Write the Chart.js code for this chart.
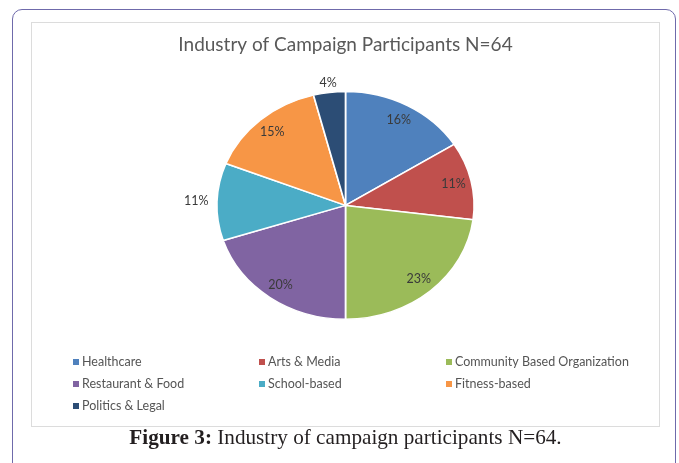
<!DOCTYPE html>
<html>
<head>
<meta charset="utf-8">
<script src="https://cdn.jsdelivr.net/npm/chart.js@4"></script>
<style>
  body { margin: 0; background: #fff; width: 679px; height: 463px; overflow: hidden; position: relative; }
  #frame { position: absolute; left: 12px; top: 9px; width: 662px; height: 480px; border: 1px solid #6f6aab; border-radius: 10px; }
  #box { position: absolute; left: 31px; top: 22px; width: 627px; height: 403px; border: 1px solid #dcdcdc; }
  #caption { position: absolute; left: 6px; width: 679px; top: 425px; text-align: center;
             font-family: "Liberation Serif", serif; font-size: 21.2px; color: #231f20; }
</style>
</head>
<body>
<div id="frame"></div>
<div id="box"><canvas id="industryChart" width="627" height="403"></canvas></div>
<div id="caption"><b>Figure 3:</b> Industry of campaign participants N=64.</div>
<script>
// Categories and share of participants (%)
var industries = ["Healthcare", "Arts & Media", "Community Based Organization",
                  "Restaurant & Food", "School-based", "Fitness-based", "Politics & Legal"];
var shares = [16, 11, 23, 20, 11, 15, 4];
var colors = ["#4f81bd", "#c0504d", "#9bbb59", "#8064a2", "#4bacc6", "#f79646", "#2c4d75"];

// pie is drawn a bit wider than tall, like the original
var stretchX = 1.13;
// where each percentage label sits, as a fraction of the radius
var labelRadius = [0.86, 0.86, 0.86, 0.86, 1.16, 0.86, 1.08];

var stretchPie = {
    id: "stretchPie",
    beforeDatasetsDraw: function (chart) {
        var arc = chart.getDatasetMeta(0).data[0];
        var ctx = chart.ctx;
        ctx.save();
        ctx.translate(arc.x, arc.y);
        ctx.scale(stretchX, 1);
        ctx.translate(-arc.x, -arc.y);
    },
    afterDatasetsDraw: function (chart) {
        var ctx = chart.ctx;
        ctx.restore();
        // percentage labels
        ctx.save();
        ctx.font = "12.5px Lato";
        ctx.fillStyle = "#3a3a3a";
        ctx.textAlign = "center";
        ctx.textBaseline = "middle";
        chart.getDatasetMeta(0).data.forEach(function (a, i) {
            var mid = (a.startAngle + a.endAngle) / 2;
            var r = a.outerRadius * labelRadius[i];
            ctx.fillText(shares[i] + "%", a.x + Math.cos(mid) * r * stretchX, a.y + Math.sin(mid) * r);
        });
        ctx.restore();
    }
};

// legend in three columns under the pie
var columnLegend = {
    id: "columnLegend",
    afterDraw: function (chart) {
        var ctx = chart.ctx;
        var colX = [41, 227, 414];
        var rowY = [339, 361, 383];
        ctx.save();
        ctx.font = "12.5px Lato";
        ctx.textBaseline = "middle";
        industries.forEach(function (name, i) {
            var x = colX[i % 3], y = rowY[Math.floor(i / 3)];
            ctx.fillStyle = colors[i];
            ctx.fillRect(x, y - 3, 6, 6);
            ctx.fillStyle = "#555555";
            ctx.fillText(name, x + 9, y);
        });
        ctx.restore();
    }
};

var ctx = document.getElementById("industryChart");

var industryChart = new Chart(ctx, {
    type: "pie",
    data: {
        labels: industries,
        datasets: [{
            data: shares,
            backgroundColor: colors,
            borderColor: "#ffffff",
            borderWidth: 1.5
        }]
    },
    options: {
        responsive: false,
        animation: false,
        layout: { padding: { top: 0, bottom: 106, left: 0, right: 0 } },
        plugins: {
            legend: { display: false },
            tooltip: { enabled: false },
            title: {
                display: true,
                text: "Industry of Campaign Participants N=64",
                color: "#595959",
                font: { family: "Lato", size: 19, weight: "normal" },
                padding: { top: 10, bottom: 35 }
            }
        }
    },
    plugins: [stretchPie, columnLegend]
});
</script>
</body>
</html>
